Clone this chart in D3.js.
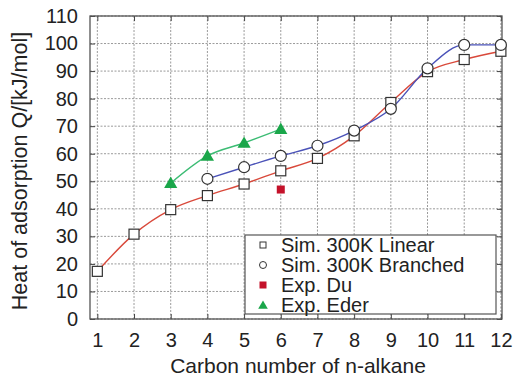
<!DOCTYPE html>
<html>
<head>
<meta charset="utf-8">
<script src="https://cdn.jsdelivr.net/npm/d3@7"></script>
<style>
  body { margin: 0; background: #fff; }
  text { font-family: "Liberation Sans", Arial, sans-serif; fill: #222; }
</style>
</head>
<body>
<script>
const carbon = [1, 2, 3, 4, 5, 6, 7, 8, 9, 10, 11, 12];
const linearQ = [17.3, 30.8, 39.7, 44.8, 49, 53.8, 58.3, 66.5, 78.6, 89.8, 94.2, 97.2];
const branchedC = [4, 5, 6, 7, 8, 9, 10, 11, 12];
const branchedQ = [50.9, 55.1, 59.2, 62.9, 68.4, 76.3, 91, 99.5, 99.5];
const duC = [6];
const duQ = [47];
const ederC = [3, 4, 5, 6];
const ederQ = [49.3, 59.2, 63.9, 68.9];
const yTicks = d3.range(0, 111, 10);
const legendLabels = ["Sim. 300K Linear", "Sim. 300K Branched", "Exp. Du", "Exp. Eder"];

const width = 514, height = 379;
const margin = {top: 16, right: 12, bottom: 60, left: 90};

const x = d3.scaleLinear()
  .domain([0.8, 12.03])
  .range([margin.left, width - margin.right]);
const y = d3.scaleLinear()
  .domain([0, 110])
  .range([height - margin.bottom, margin.top]);

const svg = d3.select("body").append("svg")
  .attr("width", width)
  .attr("height", height);

// grid
const grid = svg.append("g")
  .attr("stroke", "#9a9a9a")
  .attr("stroke-width", 1)
  .attr("stroke-dasharray", "2,1.5");
grid.selectAll(".gx").data(carbon).enter().append("line")
  .attr("x1", d => x(d)).attr("x2", d => x(d))
  .attr("y1", y(0)).attr("y2", y(110));
grid.selectAll(".gy").data(yTicks).enter().append("line")
  .attr("y1", d => y(d)).attr("y2", d => y(d))
  .attr("x1", x.range()[0]).attr("x2", x.range()[1]);

// axes with inward ticks on all sides
const tickLen = 5;
svg.append("g")
  .attr("transform", "translate(0," + y(0) + ")")
  .call(d3.axisBottom(x).tickValues(carbon).tickSizeInner(-tickLen).tickSizeOuter(0).tickPadding(14))
  .call(g => g.select(".domain").remove());
svg.append("g")
  .attr("transform", "translate(0," + y(110) + ")")
  .call(d3.axisTop(x).tickValues(carbon).tickSizeInner(-tickLen).tickSizeOuter(0).tickFormat(""))
  .call(g => g.select(".domain").remove());
svg.append("g")
  .attr("transform", "translate(" + x.range()[0] + ",0)")
  .call(d3.axisLeft(y).tickValues(yTicks).tickSizeInner(-tickLen).tickSizeOuter(0).tickPadding(12))
  .call(g => g.select(".domain").remove());
svg.append("g")
  .attr("transform", "translate(" + x.range()[1] + ",0)")
  .call(d3.axisRight(y).tickValues(yTicks).tickSizeInner(-tickLen).tickSizeOuter(0).tickFormat(""))
  .call(g => g.select(".domain").remove());

svg.selectAll(".tick line").attr("stroke", "#444");
svg.selectAll(".tick text")
  .style("font-size", "20px")
  .style("font-family", "Liberation Sans, Arial, sans-serif")
  .attr("fill", "#222");

svg.append("rect")
  .attr("x", x.range()[0]).attr("y", y(110))
  .attr("width", x.range()[1] - x.range()[0])
  .attr("height", y(0) - y(110))
  .attr("fill", "none")
  .attr("stroke", "#555")
  .attr("stroke-width", 1.3);

// curves
const line = d3.line()
  .x(d => x(d[0]))
  .y(d => y(d[1]))
  .curve(d3.curveMonotoneX);

const linearPts = d3.zip(carbon, linearQ);
const branchedPts = d3.zip(branchedC, branchedQ);
const ederPts = d3.zip(ederC, ederQ);
const duPts = d3.zip(duC, duQ);

svg.append("path").datum(linearPts)
  .attr("d", line).attr("fill", "none")
  .attr("stroke", "#d9493b").attr("stroke-width", 1.4);
svg.append("path").datum(branchedPts)
  .attr("d", line).attr("fill", "none")
  .attr("stroke", "#4a52b8").attr("stroke-width", 1.4);
svg.append("path").datum(ederPts)
  .attr("d", line).attr("fill", "none")
  .attr("stroke", "#3cbc74").attr("stroke-width", 1.4);

// markers
const sq = 10;
svg.selectAll(".lin").data(linearPts).enter().append("rect")
  .attr("x", d => x(d[0]) - sq / 2).attr("y", d => y(d[1]) - sq / 2)
  .attr("width", sq).attr("height", sq)
  .attr("fill", "#fff").attr("stroke", "#333").attr("stroke-width", 1.2);
svg.selectAll(".br").data(branchedPts).enter().append("circle")
  .attr("cx", d => x(d[0])).attr("cy", d => y(d[1])).attr("r", 5.5)
  .attr("fill", "#fff").attr("stroke", "#333").attr("stroke-width", 1.2);
svg.selectAll(".du").data(duPts).enter().append("rect")
  .attr("x", d => x(d[0]) - 4).attr("y", d => y(d[1]) - 4)
  .attr("width", 8).attr("height", 8)
  .attr("fill", "#c4122a");
const tri = d3.symbol().type(d3.symbolTriangle).size(75);
svg.selectAll(".ed").data(ederPts).enter().append("path")
  .attr("d", tri)
  .attr("transform", d => "translate(" + x(d[0]) + "," + (y(d[1]) + 1) + ")")
  .attr("fill", "#1aa64a");

// legend
const lg = svg.append("g");
lg.append("rect")
  .attr("x", 245).attr("y", 235).attr("width", 251).attr("height", 79)
  .attr("fill", "#fff").attr("stroke", "#555").attr("stroke-width", 1.2);
const rowY = i => 245 + i * 20;
lg.selectAll("text").data(legendLabels).enter().append("text")
  .attr("x", 281).attr("y", (d, i) => rowY(i) + 7)
  .style("font-size", "20px")
  .text(d => d);
lg.append("rect").attr("x", 260).attr("y", rowY(0) - 3).attr("width", 6).attr("height", 6)
  .attr("fill", "#fff").attr("stroke", "#333");
lg.append("circle").attr("cx", 263).attr("cy", rowY(1)).attr("r", 3.5)
  .attr("fill", "#fff").attr("stroke", "#333");
lg.append("rect").attr("x", 259.5).attr("y", rowY(2) - 3.5).attr("width", 7).attr("height", 7)
  .attr("fill", "#c4122a");
lg.append("path").attr("d", d3.symbol().type(d3.symbolTriangle).size(40))
  .attr("transform", "translate(263," + (rowY(3) + 1) + ")")
  .attr("fill", "#1aa64a");

// axis titles
svg.append("text")
  .attr("x", 298)
  .attr("y", 373)
  .attr("text-anchor", "middle")
  .style("font-size", "21px")
  .text("Carbon number of n-alkane");
svg.append("text")
  .attr("transform", "translate(27,171) rotate(-90)")
  .attr("text-anchor", "middle")
  .style("font-size", "21.5px")
  .text("Heat of adsorption Q/[kJ/mol]");
</script>
</body>
</html>
